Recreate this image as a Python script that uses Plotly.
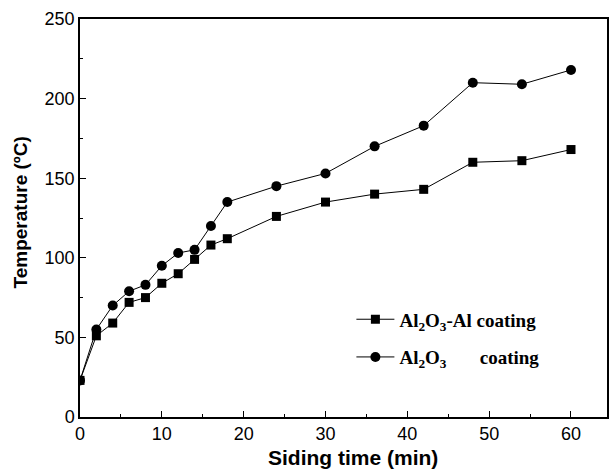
import plotly.graph_objects as go

time_min = [0, 2, 4, 6, 8, 10, 12, 14, 16, 18, 24, 30, 36, 42, 48, 54, 60]
al2o3_al = [23, 51, 59, 72, 75, 84, 90, 99, 108, 112, 126, 135, 140, 143, 160, 161, 168]
al2o3 = [23, 55, 70, 79, 83, 95, 103, 105, 120, 135, 145, 153, 170, 183, 210, 209, 218]

x_ticks = [0, 10, 20, 30, 40, 50, 60]
y_ticks = [0, 50, 100, 150, 200, 250]

fig = go.Figure()
fig.add_trace(go.Scatter(
    x=time_min, y=al2o3_al, mode="lines+markers",
    name="<b>Al<sub>2</sub>O<sub>3</sub>-Al coating</b>", legendgroup="a",
    line=dict(color="black", width=1),
    marker=dict(symbol="square", size=9, color="black")))
fig.add_trace(go.Scatter(
    x=time_min, y=al2o3, mode="lines+markers",
    name="<b>Al<sub>2</sub>O<sub>3</sub>&nbsp;&nbsp;&nbsp;&nbsp;&nbsp;&nbsp;&nbsp;coating</b>", legendgroup="b",
    line=dict(color="black", width=1),
    marker=dict(symbol="circle", size=10, color="black")))

axis_common = dict(
    showline=True, linecolor="black", linewidth=1.5, mirror=True,
    ticks="inside", ticklen=6, tickcolor="black", tickwidth=1,
    showgrid=False, zeroline=False,
    tickfont=dict(family="Liberation Sans, Arial", size=18, color="black"),
)

fig.update_layout(
    width=610, height=474,
    margin=dict(l=80, r=1, t=19, b=57),
    paper_bgcolor="white", plot_bgcolor="white",
    showlegend=True,
    legend=dict(x=0.515, y=0.293, xanchor="left", yanchor="top",
                bgcolor="rgba(0,0,0,0)", tracegroupgap=10,
                font=dict(family="Liberation Serif, Times New Roman", size=19, color="black"),
                itemwidth=38),
    xaxis=dict(range=[0, 64.4], tickvals=x_ticks,
               minor=dict(ticks="inside", ticklen=3, tickcolor="black", dtick=5),
               **axis_common),
    yaxis=dict(range=[0, 250], tickvals=y_ticks,
               minor=dict(ticks="inside", ticklen=3, tickcolor="black", dtick=25),
               **axis_common),
    annotations=[
        dict(text="<b>Siding time (min)</b>", xref="paper", yref="paper",
             x=0.518, y=-0.103, xanchor="center", yanchor="middle", showarrow=False,
             font=dict(family="Liberation Sans, Arial", size=21, color="black")),
        dict(text="<b>Temperature (ºC)</b>", xref="paper", yref="paper",
             x=-0.113, y=0.515, xanchor="center", yanchor="middle", showarrow=False,
             textangle=-90,
             font=dict(family="Liberation Sans, Arial", size=19, color="black")),
    ],
)

fig.write_html("out.html")
